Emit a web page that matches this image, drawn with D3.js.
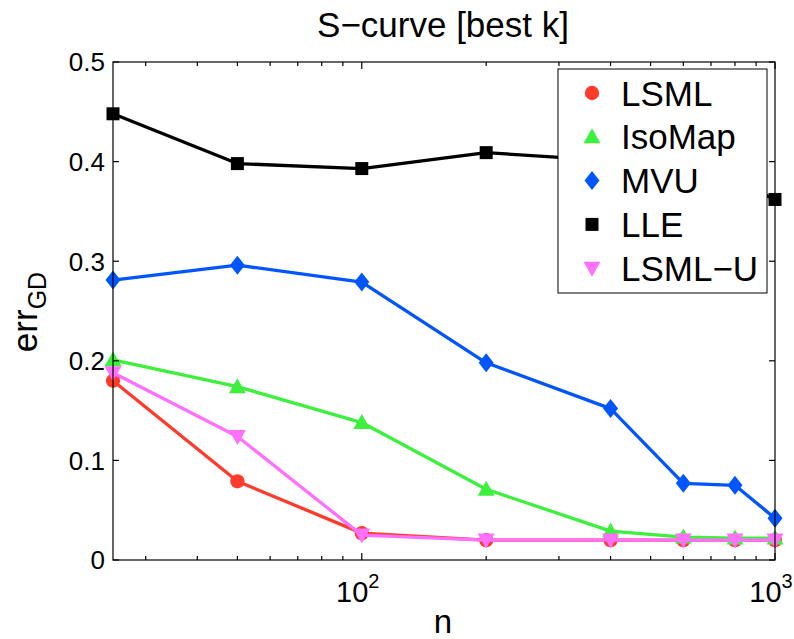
<!DOCTYPE html>
<html>
<head>
<meta charset="utf-8">
<script src="https://cdn.jsdelivr.net/npm/d3@7/dist/d3.min.js"></script>
<style>
  html, body { margin: 0; padding: 0; background: #fff; }
  svg { display: block; font-family: "Liberation Sans", Arial, sans-serif; }
</style>
</head>
<body>
<svg id="chart" width="794" height="639"></svg>
<script>
// Sample sizes (x) and geodesic-distance error per method
const sizes = [25, 50, 100, 200, 400, 600, 800, 1000];
const lsml   = [0.180, 0.079, 0.027, 0.020, 0.020, 0.020, 0.020, 0.020];
const isomap = [0.201, 0.174, 0.138, 0.071, 0.029, 0.023, 0.022, 0.022];
const mvu    = [0.281, 0.296, 0.279, 0.198, 0.152, 0.077, 0.075, 0.042];
const lle    = [0.448, 0.398, 0.393, 0.409, 0.401, 0.392, 0.380, 0.362];
const lsmlU  = [0.188, 0.124, 0.025, 0.020, 0.020, 0.020, 0.020, 0.020];

const seriesNames = ["LSML", "IsoMap", "MVU", "LLE", "LSML\u2212U"];
const yTicks = [0, 0.1, 0.2, 0.3, 0.4, 0.5];
const xMajorTicks = [100, 1000];
const xMinorTicks = [30, 40, 50, 60, 70, 80, 90, 200, 300, 400, 500, 600, 700, 800, 900];

const series = [
  { name: seriesNames[0], values: lsml,   color: "#ff3b2b", symbol: "circle" },
  { name: seriesNames[1], values: isomap, color: "#3ef03e", symbol: "triUp" },
  { name: seriesNames[2], values: mvu,    color: "#0055ff", symbol: "diamond" },
  { name: seriesNames[3], values: lle,    color: "#000000", symbol: "square" },
  { name: seriesNames[4], values: lsmlU,  color: "#ff70ff", symbol: "triDown" }
];

const svg = d3.select("#chart");
const plotLeft = 113, plotRight = 775, plotTop = 62, plotBottom = 560;

const x = d3.scaleLog().domain([25, 1000]).range([plotLeft, plotRight]);
const y = d3.scaleLinear().domain([0, 0.5]).range([plotBottom, plotTop]);

// Marker shapes
function markerPath(sym) {
  switch (sym) {
    case "circle":  return d3.symbol(d3.symbolCircle, 160)();
    case "square":  return "M-6.5,-6.5H6.5V6.5H-6.5Z";
    case "diamond": return "M0,-9.5L7.5,0L0,9.5L-7.5,0Z";
    case "triUp":   return "M0,-8.5L8.5,6.5H-8.5Z";
    case "triDown": return "M0,8.5L8.5,-6.5H-8.5Z";
  }
}

// Data lines and markers
const line = d3.line().x((d, i) => x(sizes[i])).y(d => y(d));
series.forEach(s => {
  const g = svg.append("g");
  g.append("path")
    .attr("d", line(s.values))
    .attr("fill", "none")
    .attr("stroke", s.color)
    .attr("stroke-width", 3.3)
    .attr("stroke-linejoin", "round");
  g.selectAll("path.m").data(s.values).enter().append("path")
    .attr("class", "m")
    .attr("d", markerPath(s.symbol))
    .attr("transform", (d, i) => `translate(${x(sizes[i])},${y(d)})`)
    .attr("fill", s.color);
});

// Axes box with inward ticks
const axisG = svg.append("g").attr("stroke", "#000").attr("stroke-width", 1.2);
axisG.append("rect")
  .attr("x", plotLeft).attr("y", plotTop)
  .attr("width", plotRight - plotLeft).attr("height", plotBottom - plotTop)
  .attr("fill", "none");

yTicks.forEach(t => {
  axisG.append("line").attr("x1", plotLeft).attr("x2", plotLeft + 6).attr("y1", y(t)).attr("y2", y(t));
  axisG.append("line").attr("x1", plotRight).attr("x2", plotRight - 6).attr("y1", y(t)).attr("y2", y(t));
});
xMajorTicks.forEach(t => {
  axisG.append("line").attr("x1", x(t)).attr("x2", x(t)).attr("y1", plotBottom).attr("y2", plotBottom - 7);
  axisG.append("line").attr("x1", x(t)).attr("x2", x(t)).attr("y1", plotTop).attr("y2", plotTop + 7);
});
xMinorTicks.forEach(t => {
  axisG.append("line").attr("x1", x(t)).attr("x2", x(t)).attr("y1", plotBottom).attr("y2", plotBottom - 4);
  axisG.append("line").attr("x1", x(t)).attr("x2", x(t)).attr("y1", plotTop).attr("y2", plotTop + 4);
});

// Y tick labels
svg.append("g").selectAll("text").data(yTicks).enter().append("text")
  .attr("x", plotLeft - 8)
  .attr("y", d => y(d))
  .attr("dy", "0.36em")
  .attr("text-anchor", "end")
  .attr("font-size", 26)
  .text(d => d === 0 ? "0" : d3.format(".1f")(d));

// X tick labels as powers of ten
xMajorTicks.forEach(t => {
  const tx = svg.append("text")
    .attr("x", x(t) - 4)
    .attr("y", 602)
    .attr("text-anchor", "middle")
    .attr("font-size", 29);
  tx.append("tspan").text("10");
  tx.append("tspan").attr("font-size", 20).attr("dy", -14).text(Math.round(Math.log10(t)));
});

// Title and axis labels
svg.append("text")
  .attr("x", 443).attr("y", 37)
  .attr("text-anchor", "middle")
  .attr("font-size", 35)
  .text("S\u2212curve [best k]");

svg.append("text")
  .attr("x", 443).attr("y", 633)
  .attr("text-anchor", "middle")
  .attr("font-size", 33)
  .text("n");

const yl = svg.append("text")
  .attr("transform", "translate(37,312) rotate(-90)")
  .attr("text-anchor", "middle")
  .attr("font-size", 35);
yl.append("tspan").text("err");
yl.append("tspan").attr("font-size", 25).attr("dy", 9).text("GD");

// Legend
const lg = svg.append("g");
lg.append("rect")
  .attr("x", 558).attr("y", 69).attr("width", 209).attr("height", 224)
  .attr("fill", "#fff").attr("stroke", "#000").attr("stroke-width", 1);
series.forEach((s, i) => {
  const cy = 93 + i * 43.8;
  lg.append("path")
    .attr("d", markerPath(s.symbol))
    .attr("transform", `translate(592,${cy})`)
    .attr("fill", s.color);
  lg.append("text")
    .attr("x", 621).attr("y", cy)
    .attr("dy", "0.36em")
    .attr("font-size", 35)
    .text(s.name);
});
</script>
</body>
</html>
